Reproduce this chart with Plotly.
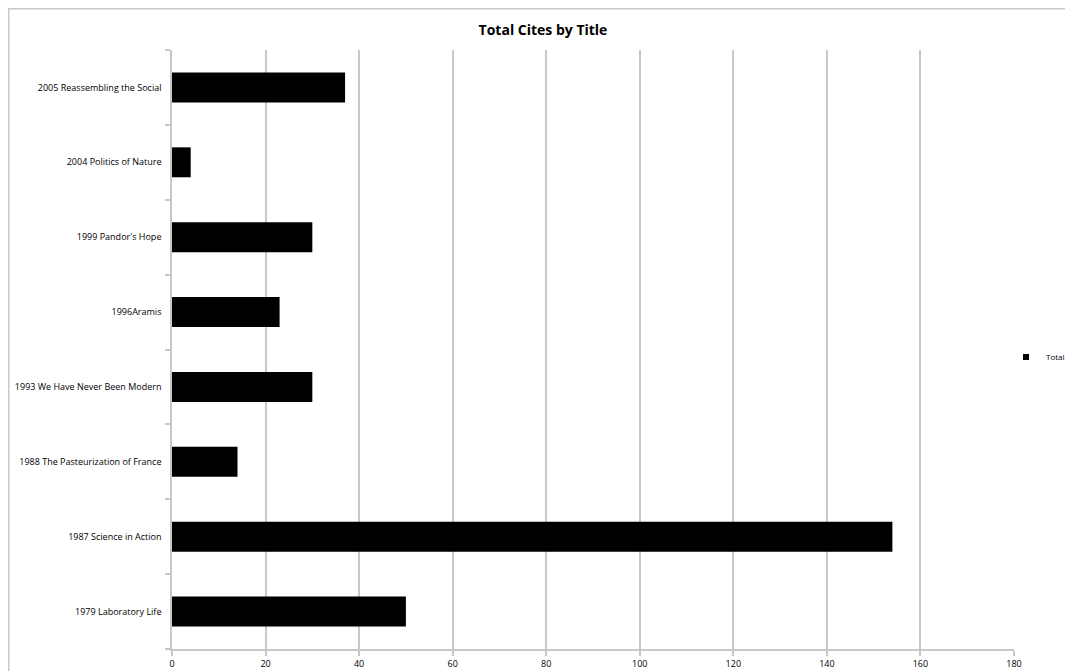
import plotly.graph_objects as go

titles = [
    "1979 Laboratory Life",
    "1987 Science in Action",
    "1988 The Pasteurization of France",
    "1993 We Have Never Been Modern",
    "1996Aramis",
    "1999 Pandor's Hope",
    "2004 Politics of Nature",
    "2005 Reassembling the Social",
]
total_cites = [50, 154, 14, 30, 23, 30, 4, 37]
x_ticks = [0, 20, 40, 60, 80, 100, 120, 140, 160, 180]

grid = "#c8c8c8"
font_family = "Open Sans, DejaVu Sans, sans-serif"

W, H = 1065, 663
L, R, T, B = 164, 59, 42, 22
PW, PH = W - L - R, H - T - B

fig = go.Figure()
fig.add_trace(go.Bar(
    y=titles, x=total_cites, orientation="h", name="Total",
    marker=dict(color="#000000", line=dict(width=0)),
    showlegend=False,
))
# legend entry with a small square symbol
fig.add_trace(go.Scatter(
    x=[None], y=[None], mode="markers", name="Total",
    marker=dict(symbol="square", size=6, color="#000000"),
    showlegend=True,
))

fig.update_layout(
    width=W, height=H,
    margin=dict(l=L, r=R, t=T, b=B, autoexpand=False),
    paper_bgcolor="white", plot_bgcolor="white",
    bargap=0.6,
    title=dict(text="<b>Total Cites by Title</b>", x=535 / W, xanchor="center",
               y=1 - 22 / H, yanchor="middle",
               font=dict(family=font_family, size=14, color="#000000")),
    font=dict(family=font_family, size=9, color="#000000"),
    legend=dict(xref="container", yref="container", x=(1006 - 8) / W, y=1 - (357 - 8) / H,
                xanchor="left", yanchor="middle",
                font=dict(size=8), itemwidth=30, bgcolor="rgba(0,0,0,0)"),
    xaxis=dict(range=[0, 180], tickvals=x_ticks, showgrid=True, gridcolor=grid, gridwidth=1.5,
               showline=True, linecolor=grid, linewidth=1.5, ticks="outside", ticklen=5,
               tickcolor=grid, tickwidth=1.5, zeroline=False, tickfont=dict(size=9)),
    yaxis=dict(type="category", categoryorder="array", categoryarray=titles,
               range=[-0.5, len(titles) - 0.5],
               showline=True, linecolor=grid, linewidth=1.5, ticks="outside", ticklen=5,
               tickson="boundaries", tickcolor=grid, tickwidth=1.5, showgrid=False,
               tickfont=dict(size=9), ticklabelstandoff=7),
    shapes=[
        dict(type="line", xref="paper", yref="paper",
             x0=-L / PW, x1=(W + 10 - L) / PW,
             y0=(PH + T - 0.75) / PH, y1=(PH + T - 0.75) / PH,
             line=dict(color=grid, width=1.5)),
        dict(type="line", xref="paper", yref="paper",
             x0=(0.75 - L) / PW, x1=(0.75 - L) / PW,
             y0=(PH + T) / PH, y1=-(B + 10) / PH,
             line=dict(color=grid, width=1.5)),
    ],
)

fig.write_html("out.html")
